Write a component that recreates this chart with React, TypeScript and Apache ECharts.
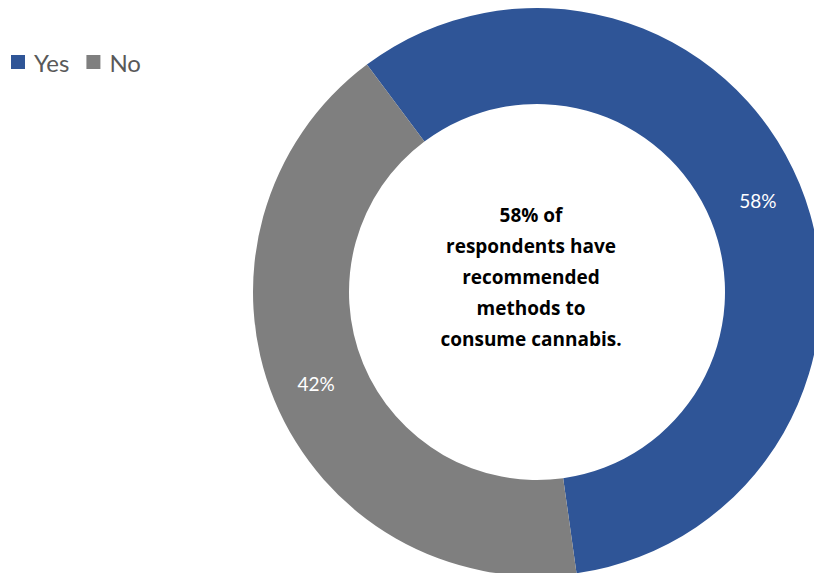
import React, { useEffect, useRef } from "react";
import * as echarts from "echarts";

const categories = ["Yes", "No"];
const values = [58, 42];
const colors = ["#2F5597", "#7F7F7F"];
const centerLines = [
  "58% of",
  "respondents have",
  "recommended",
  "methods to",
  "consume cannabis.",
];

export default function App() {
  const ref = useRef<HTMLDivElement>(null);
  useEffect(() => {
    if (!ref.current) return;
    const chart = echarts.init(ref.current, null, { renderer: "svg" });
    chart.setOption({
      animation: false,
      backgroundColor: "#ffffff",
      legend: {
        left: 6,
        top: 45,
        itemWidth: 14,
        itemHeight: 14,
        itemGap: 17,
        icon: "rect",
        textStyle: {
          fontFamily: "Lato",
          fontSize: 24,
          color: "#595959",
          padding: [0, 0, 0, 4],
        },
        data: categories,
      },
      series: [
        {
          type: "pie",
          center: [537, 292],
          radius: [188, 284],
          startAngle: 126.8,
          clockwise: true,
          avoidLabelOverlap: false,
          label: {
            show: true,
            position: "inside",
            formatter: "{c}%",
            color: "#ffffff",
            fontFamily: "Lato",
            fontSize: 19,
          },
          labelLine: { show: false },
          itemStyle: { borderWidth: 0 },
          emphasis: { disabled: true },
          data: categories.map((c, i) => ({
            name: c,
            value: values[i],
            itemStyle: { color: colors[i] },
          })),
        },
      ],
      graphic: [
        {
          type: "text",
          x: 531,
          y: 199,
          style: {
            text: centerLines.join("\n"),
            fontFamily: "Open Sans",
            fontWeight: "bold",
            fontSize: 19,
            lineHeight: 31,
            fill: "#000000",
            align: "center",
            verticalAlign: "top",
          },
        },
      ],
    });
    return () => chart.dispose();
  }, []);
  return <div ref={ref} style={{ width: 814, height: 573, position: "absolute", left: 0, top: 0 }} />;
}
